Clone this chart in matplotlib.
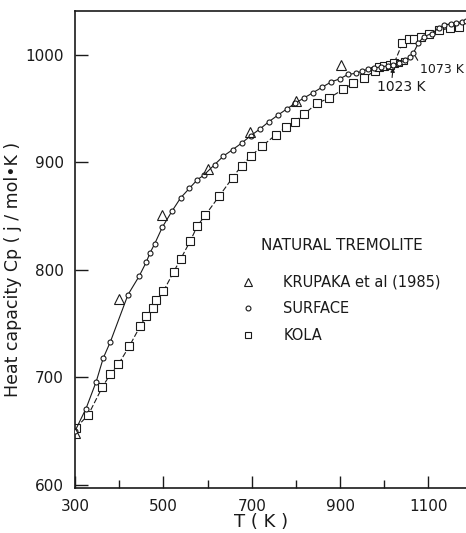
import numpy as np
import matplotlib
matplotlib.use('Agg')
import matplotlib.pyplot as plt

# Surface sample (circles)
surf_T = [300, 325, 348, 364, 380, 420, 445, 461, 470, 480, 498, 520, 539,
          559, 577, 591, 616, 636, 657, 677, 698, 718, 739, 759, 780, 798,
          818, 839, 859, 880, 900, 918, 936, 950, 964, 977, 993, 1008, 1020,
          1033, 1046, 1058, 1066, 1077, 1089, 1107, 1123, 1136, 1150, 1163,
          1176, 1186]
surf_cp = [650, 671, 696, 718, 733, 777, 794, 807, 816, 824, 840, 855, 867,
           876, 884, 888, 898, 906, 912, 918, 925, 931, 938, 944, 950, 955,
           960, 965, 970, 975, 978, 982, 983, 985, 987, 988, 989, 990, 991,
           993, 995, 998, 1002, 1011, 1017, 1020, 1025, 1028, 1029, 1030,
           1031, 1032]

# Kola sample (squares)
kola_T = [302, 330, 362, 380, 398, 423, 448, 461, 477, 484, 500, 523, 539,
          561, 577, 595, 627, 657, 677, 698, 723, 755, 777, 798, 818, 848,
          875, 907, 930, 955, 978, 989, 1000, 1012, 1023, 1041, 1057, 1068,
          1084, 1102, 1125, 1148, 1170]
kola_cp = [653, 665, 691, 703, 712, 729, 748, 757, 765, 772, 780, 798, 810,
           827, 841, 851, 869, 886, 897, 906, 915, 926, 933, 938, 945, 955,
           960, 968, 974, 979, 985, 989, 990, 991, 993, 1011, 1015, 1015,
           1017, 1020, 1023, 1025, 1026]
kola_extra_T = [1033, 1044]
kola_extra_cp = [993, 994]

# Krupaka et al (1985) (triangles)
krup_T = [300, 400, 498, 600, 696, 800, 902]
krup_cp = [648, 773, 851, 894, 928, 957, 991]

ink = '#1a1a1a'
fw, fh = 4.66, 5.33
fig = plt.figure(figsize=(fw, fh), dpi=100)
ax = fig.add_axes([75/466, 1-488/533, 391/466, 477/533])

ax.plot(surf_T, surf_cp, '-', color=ink, lw=0.8, marker='o', ms=3.6,
        mfc='white', mec=ink, mew=0.8, zorder=3)
ax.plot(kola_T, kola_cp, color=ink, lw=0.8, ls=(0, (5, 2)), marker='s',
        ms=5.8, mfc='white', mec=ink, mew=0.8, zorder=2)
ax.plot(kola_extra_T, kola_extra_cp, ls='none', marker='s', ms=4.2,
        mfc='white', mec=ink, mew=0.8, zorder=2)
ax.plot(krup_T, krup_cp, ls='none', marker='^', ms=7, mfc='none',
        mec=ink, mew=0.8, zorder=4)

ax.set_xlim(300, 1185)
ax.set_ylim(597, 1041)
ax.set_xticks([300, 500, 700, 900, 1100])
ax.set_xticks([400, 600, 800, 1000], minor=True)
ax.set_yticks([600, 700, 800, 900, 1000])
ax.tick_params(which='both', direction='in', colors=ink, labelsize=11)
ax.tick_params(axis='x', which='major', length=9, width=1, pad=8)
ax.tick_params(axis='x', which='minor', length=6, width=1)
ax.tick_params(axis='y', which='major', length=9, width=1, pad=8)
for side in ['left', 'bottom', 'top']:
    ax.spines[side].set_linewidth(1.2)
    ax.spines[side].set_color(ink)
ax.spines['right'].set_visible(False)

ax.set_xlabel('T ( K )', fontsize=13, color=ink)
ax.xaxis.set_label_coords(0.476, -0.052)
ax.set_ylabel('Heat capacity Cp ( j / mol\u2022K )', fontsize=12.5,
              color=ink)
ax.yaxis.set_label_coords(-0.136, 0.459)

# transition annotations
ax.annotate('1023 K', xy=(1021, 992), xytext=(1039, 970), fontsize=10,
            color=ink, ha='center', va='center',
            arrowprops=dict(arrowstyle='-|>', color=ink, lw=0.8,
                            mutation_scale=6, shrinkA=0, shrinkB=3,
                            relpos=(0.3, 1.0)))
ax.annotate('1073 K', xy=(1066, 1002), xytext=(1082, 987), fontsize=9,
            color=ink, ha='left', va='center',
            arrowprops=dict(arrowstyle='-', color=ink, lw=0.8,
                            shrinkA=0, shrinkB=3, relpos=(0.0, 0.8)))

# legend
ax.text(0.475, 0.508, 'NATURAL TREMOLITE', transform=ax.transAxes,
        fontsize=11, color=ink, ha='left', va='center')
h1, = ax.plot([], [], ls='none', marker='^', ms=6, mfc='none', mec=ink,
              mew=0.8)
h2, = ax.plot([], [], ls='none', marker='o', ms=3.5, mfc='white', mec=ink,
              mew=0.8)
h3, = ax.plot([], [], ls='none', marker='s', ms=5, mfc='white', mec=ink,
              mew=0.8)
leg = ax.legend([h1, h2, h3], ['KRUPAKA et al (1985)', 'SURFACE', 'KOLA'],
                loc='upper left', bbox_to_anchor=(0.425, 0.447),
                frameon=False, fontsize=10.5, handlelength=1,
                handletextpad=1.9, labelspacing=0.8, borderpad=0,
                borderaxespad=0)
for t in leg.get_texts():
    t.set_color(ink)

fig.savefig('out.png', dpi=100)
